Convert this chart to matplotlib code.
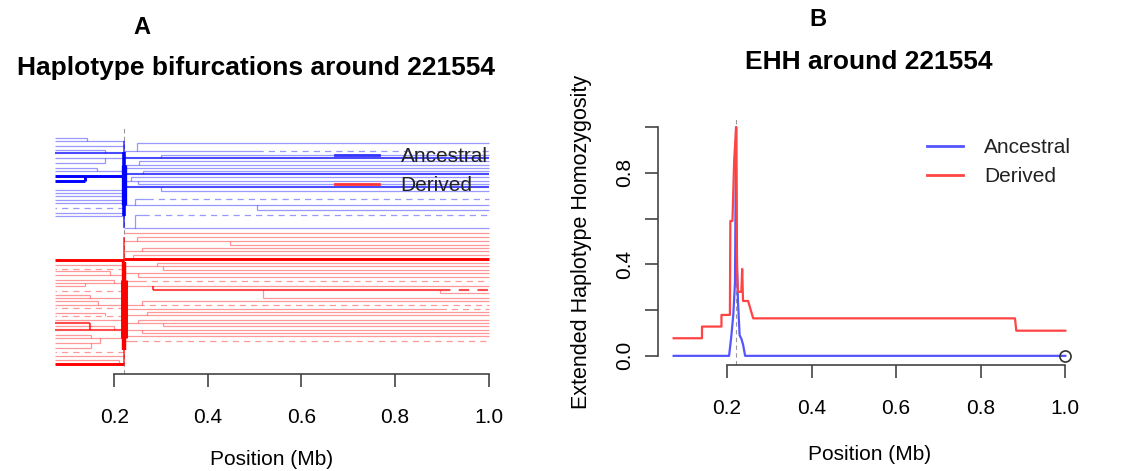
import numpy as np
import matplotlib
matplotlib.use("Agg")
import matplotlib.pyplot as plt
from matplotlib.lines import Line2D

plt.rcParams['font.family'] = ['Liberation Sans', 'DejaVu Sans']

W, H = 1143, 471
core = 0.2216          # core SNP position 221554 (Mb)
x_min, x_max = 0.074, 1.0

# ---- panel A: bifurcation diagram (rows = haplotype order, top to bottom) ----
# ancestral, right of core
br_rows   = [143, 151, 155, 158, 161, 165, 168, 171, 174, 177, 181, 184, 187, 191, 199, 205, 210, 215, 228]
br_join   = [0.249, None, 0.300, None, 0.252, None, None, 0.262, None, 0.236, None, 0.250, None, 0.300, 0.245, None, 0.505, 0.245, None]
br_parent = [151, None, 158, None, 165, None, None, 174, None, 181, None, 181, None, 187, 205, None, 205, 228, None]
br_n      = [1, 1, 1, 2, 1, 1, 1, 1, 2, 1, 1, 1, 2, 1, 1, 1, 1, 1, 1]
br_dash   = [None, 0.505, None, None, None, None, None, None, None, None, None, None, None, None, 0.27, None, None, 0.262, None]
# ancestral, left of core
bl_rows   = [138, 141, 146, 150, 153, 158, 163, 168, 171, 176, 181, 190, 193, 196, 200, 203, 208, 213, 216]
bl_join   = [0.142, None, None, 0.181, None, None, 0.180, 0.164, None, None, 0.138, None, None, None, None, None, None, None, None]
bl_parent = [141, None, None, 153, None, None, 158, 171, None, None, 176, None, None, None, None, None, None, None, None]
bl_n      = [1, 1, 1, 1, 2, 1, 1, 1, 1, 3, 3, 1, 1, 1, 1, 1, 1, 1, 1]
bl_dash   = [None] * 16 + [core, None, None]
# derived, right of core
rr_rows   = [233, 237, 241, 245, 248, 251, 255, 259, 263, 266, 270, 273, 277, 281, 286, 290, 293, 298, 301, 305, 309, 312, 315, 320, 323, 326, 330, 333, 336, 341]
rr_join   = [None, 0.249, None, 0.447, 0.26, None, 0.24, None, 0.292, None, 0.305, None, 0.25, None, None, 0.283, 0.895, 0.518, 0.26, None, None, 0.27, None, 0.25, None, 0.305, None, 0.26, None, None]
rr_parent = [None, 241, None, 241, 251, None, 259, None, 266, None, 266, None, 273, None, None, 286, 290, 290, 305, None, None, 315, None, 323, None, 323, None, 330, None, None]
rr_n      = [1, 1, 1, 1, 1, 1, 1, 3, 1, 1, 1, 1, 1, 1, 1, 2, 1, 1, 1, 1, 1, 1, 1, 1, 1, 1, 1, 1, 1, 1]
rr_dash   = [None] * 13 + [0.255, None, 0.895, None, None, None, 0.25, 0.895] + [None] * 8 + [0.235]
# derived, left of core
rl_rows   = [260, 265, 269, 271, 275, 280, 283, 286, 291, 295, 298, 301, 305, 308, 313, 316, 320, 323, 326, 330, 335, 338, 343, 348, 352, 356, 360, 364]
rl_join   = [None, None, None, 0.19, None, 0.20, None, 0.138, None, 0.149, None, 0.165, None, None, 0.18, None, None, 0.149, 0.20, None, 0.15, None, 0.17, 0.15, None, None, 0.21, None]
rl_parent = [None, None, None, 275, None, 283, None, 283, None, 298, None, 305, None, None, 316, None, None, 330, 330, None, 338, None, 338, 343, None, None, 364, None]
rl_n      = [3, 1, 1, 1, 1, 1, 1, 1, 1, 1, 1, 1, 1, 1, 1, 1, 1, 2, 1, 2, 1, 1, 1, 1, 1, 1, 1, 3]
rl_dash   = [None, None, core, None, None, None, None, None, core, None, None, None, None, core, None, core, None, None, None, None, None, None, None, None, core, None, None, None]
# shared trunks at the core
trunk_b = [(141, 228, 2), (152, 216, 4), (165, 205, 6)]
trunk_r = [(237, 364, 2), (262, 350, 5), (280, 338, 8)]

# ---- panel B: EHH decay ----
der_x = [0.074, 0.141, 0.141, 0.187, 0.187, 0.207, 0.208, 0.213, 0.217, core, 0.224, 0.226, 0.234, 0.236, 0.238, 0.25, 0.262, 0.881, 0.884, 1.0]
der_y = [0.077, 0.077, 0.128, 0.128, 0.179, 0.179, 0.59, 0.59, 0.85, 1.0, 0.36, 0.28, 0.28, 0.38, 0.24, 0.24, 0.164, 0.164, 0.11, 0.11]
anc_x = [0.074, 0.205, 0.210, 0.215, 0.219, core, 0.223, 0.226, 0.230, 0.234, 0.238, 0.243, 1.0]
anc_y = [0.0, 0.0, 0.08, 0.18, 0.32, 1.0, 0.45, 0.24, 0.09, 0.075, 0.05, 0.0, 0.0]

BLUE, RED = '#0000ff', '#ff0000'


def fx(px):
    return px / W


def fy(py):
    return 1 - py / H


def draw_side(ax, rows, joins, parents, n_hap, dash_x, side, color):
    outer = x_max if side == 'right' else x_min
    for y, xj, par, n, xd in zip(rows, joins, parents, n_hap, dash_x):
        inner = core if xj is None else xj
        kw = dict(color=color, lw=0.9 + 0.6 * (n - 1),
                  alpha=min(1.0, 0.4 + 0.3 * (n - 1)), solid_capstyle='butt')
        if xd is None:
            ax.plot([inner, outer], [y, y], **kw)
        else:
            ax.plot([inner, xd], [y, y], **kw)
            ax.plot([xd, outer], [y, y], ls=(0, (5, 4)), **kw)
        if par is not None:
            ax.plot([xj, xj], [y, par], **kw)


fig = plt.figure(figsize=(W / 100, H / 100), dpi=100)

# ---------- A ----------
axa = fig.add_axes([fx(38), fy(374), (506 - 38) / W, (374 - 128) / H])
axa.axvline(core, color='#999999', lw=0.8, ls=(0, (4, 3)), zorder=0)
draw_side(axa, br_rows, br_join, br_parent, br_n, br_dash, 'right', BLUE)
draw_side(axa, bl_rows, bl_join, bl_parent, bl_n, bl_dash, 'left', BLUE)
draw_side(axa, rr_rows, rr_join, rr_parent, rr_n, rr_dash, 'right', RED)
draw_side(axa, rl_rows, rl_join, rl_parent, rl_n, rl_dash, 'left', RED)
for trunk, c in ((trunk_b, BLUE), (trunk_r, RED)):
    for y0, y1, n in trunk:
        axa.plot([core, core], [y0, y1], color=c, lw=0.8 + 0.6 * (n - 1),
                 alpha=min(1.0, 0.35 + 0.3 * (n - 1)), solid_capstyle='butt')
axa.set_xlim(0.037, 1.037)
axa.set_ylim(374, 128)

# ---------- B ----------
axb = fig.add_axes([fx(658), fy(365), (1081 - 658) / W, (365 - 118) / H])
axb.axvline(core, color='#999999', lw=0.8, ls=(0, (4, 3)), zorder=0)
axb.plot(anc_x, anc_y, color='#5555ff', lw=1.6)
axb.plot(der_x, der_y, color='#ff4444', lw=1.6)
axb.plot([anc_x[-1]], [anc_y[-1]], 'o', mfc='none', mec='#333333', ms=8, mew=1.2)
axb.set_xlim(0.037, 1.037)
axb.set_ylim(-0.04, 1.04)
axb.set_yticks([0, 0.2, 0.4, 0.6, 0.8, 1.0])
axb.set_yticklabels(['0.0', '', '0.4', '', '0.8', ''])
axb.tick_params(axis='y', labelrotation=90)
for lab in axb.get_yticklabels():
    lab.set_va('center')
axb.set_ylabel('Extended Haplotype Homozygosity', fontsize=15.5)
axb.yaxis.set_label_coords((592 - 658) / 423, 0.5)
axb.spines['left'].set_bounds(0, 1.0)

for ax in (axa, axb):
    for s in ('top', 'right', 'left'):
        if not (ax is axb and s == 'left'):
            ax.spines[s].set_visible(False)
    ax.spines['bottom'].set_bounds(0.2, 1.0)
    for s in ('bottom', 'left'):
        ax.spines[s].set_color('#444444')
        ax.spines[s].set_linewidth(1.2)
    ax.set_xticks([0.2, 0.4, 0.6, 0.8, 1.0])
    ax.set_xticklabels(['0.2', '0.4', '0.6', '0.8', '1.0'])
    ax.tick_params(axis='x', length=9.5, width=1.2, color='#444444', labelsize=15, pad=15)
    ax.set_xlabel('Position (Mb)', fontsize=15)
axa.tick_params(axis='y', left=False, labelleft=False)
axb.tick_params(axis='y', length=9.5, width=1.2, color='#444444', labelsize=15, pad=8)
axa.xaxis.set_label_coords(0.5, -(450 - 374) / 246)
axb.xaxis.set_label_coords(0.5, -(445 - 365) / 247)

leg_kw = dict(loc='upper left', bbox_transform=fig.transFigure, frameon=False,
              borderpad=0, borderaxespad=0, labelspacing=0.5, fontsize=15,
              labelcolor='#222222')
axa.legend([Line2D([], [], color='#3333ff', lw=2), Line2D([], [], color='#ff3333', lw=2)],
           ['Ancestral', 'Derived'], bbox_to_anchor=(fx(335), fy(147)),
           handlelength=2.1, handletextpad=1.05, **leg_kw)
axb.legend([Line2D([], [], color='#5555ff', lw=2), Line2D([], [], color='#ff4444', lw=2)],
           ['Ancestral', 'Derived'], bbox_to_anchor=(fx(927), fy(138)),
           handlelength=1.75, handletextpad=1.0, **leg_kw)

fig.text(fx(256), fy(68), 'Haplotype bifurcations around 221554', ha='center', va='center',
         fontsize=19, fontweight='bold')
fig.text(fx(869), fy(62), 'EHH around 221554', ha='center', va='center',
         fontsize=19, fontweight='bold')
fig.text(fx(142), fy(27), 'A', ha='center', va='center', fontsize=17, fontweight='bold')
fig.text(fx(818), fy(19), 'B', ha='center', va='center', fontsize=17, fontweight='bold')

fig.savefig('out.png', dpi=100)
